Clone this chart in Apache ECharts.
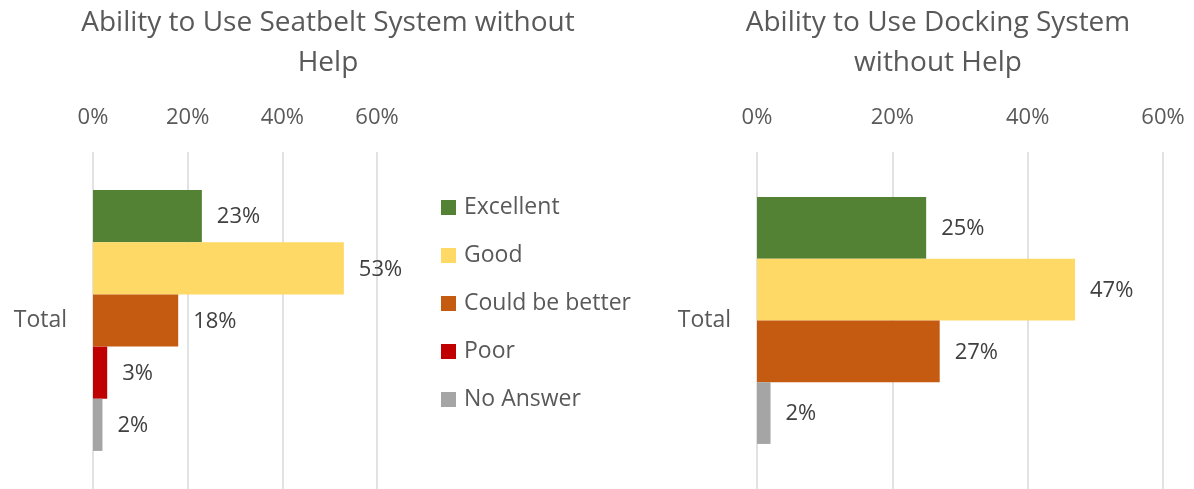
<!DOCTYPE html>
<html>
<head>
<meta charset="utf-8">
<script src="https://cdn.jsdelivr.net/npm/echarts@6/dist/echarts.min.js"></script>
<style>
  html, body { margin: 0; padding: 0; background: #ffffff; }
  #chart { width: 1194px; height: 489px; }
</style>
</head>
<body>
<div id="chart"></div>
<script>
// Survey results: share of answers per rating, one panel per system
const categories = ['Total'];
const ratingNames = ['Excellent', 'Good', 'Could be better', 'Poor', 'No Answer'];
const ratingColors = ['#548235', '#FED966', '#C55A11', '#C00000', '#A5A5A5'];

const seatbeltTitle = 'Ability to Use Seatbelt System without\nHelp';
const seatbeltNames = ['Excellent', 'Good', 'Could be better', 'Poor', 'No Answer'];
const seatbeltValues = [23, 53, 18, 3, 2];

const dockingTitle = 'Ability to Use Docking System\nwithout Help';
const dockingNames = ['Excellent', 'Good', 'Could be better', 'No Answer'];
const dockingValues = [25, 47, 27, 2];

const axisTicks = [0, 20, 40, 60];

const FONT = '"Open Sans", "Noto Sans", sans-serif';
const TEXT_GREY = '#595959';
const LABEL_GREY = '#404040';

function colorOf(name) {
  return ratingColors[ratingNames.indexOf(name)];
}

// gap between category bands, as in an office chart with ~146% gap width
function categoryGap(n) {
  const g = 1.46;
  return (g / (n + g) * 100).toFixed(2) + '%';
}

function panelSeries(names, values, idx) {
  return names.map((name, i) => ({
    name: name,
    type: 'bar',
    xAxisIndex: idx,
    yAxisIndex: idx,
    data: [values[i]],
    barGap: '0%',
    barCategoryGap: categoryGap(names.length),
    itemStyle: { color: colorOf(name) },
    label: {
      show: true,
      position: 'right',
      distance: 15,
      formatter: '{c}%',
      color: LABEL_GREY,
      fontFamily: FONT,
      fontSize: 22,
      offset: [0, 1]
    },
    emphasis: { disabled: true }
  }));
}

function xAxisFor(idx) {
  return {
    type: 'value',
    gridIndex: idx,
    position: 'top',
    min: axisTicks[0],
    max: axisTicks[axisTicks.length - 1],
    interval: axisTicks[1] - axisTicks[0],
    axisLine: { show: false },
    axisTick: { show: false },
    axisLabel: {
      formatter: '{value}%',
      color: TEXT_GREY,
      fontFamily: FONT,
      fontSize: 22,
      margin: 23
    },
    splitLine: { show: true, lineStyle: { color: '#D9D9D9', width: 1.5 } }
  };
}

function yAxisFor(idx) {
  return {
    type: 'category',
    gridIndex: idx,
    data: categories,
    inverse: true,
    axisLine: { show: false },
    axisTick: { show: false },
    axisLabel: {
      color: TEXT_GREY,
      fontFamily: FONT,
      fontSize: 23,
      margin: 26
    }
  };
}

const titleStyle = { color: TEXT_GREY, fontFamily: FONT, fontWeight: 'normal', fontSize: 28, lineHeight: 40 };

const chart = echarts.init(document.getElementById('chart'), null, { renderer: 'canvas' });

chart.setOption({
  animation: false,
  backgroundColor: '#ffffff',
  title: [
    { text: seatbeltTitle, left: 328, top: 3, padding: 0, textAlign: 'center', textStyle: titleStyle },
    { text: dockingTitle, left: 938, top: 3, padding: 0, textAlign: 'center', textStyle: titleStyle }
  ],
  legend: {
    orient: 'vertical',
    left: 441,
    top: 196,
    padding: 0,
    itemWidth: 15,
    itemHeight: 15,
    itemGap: 25,
    icon: 'rect',
    selectedMode: false,
    data: ratingNames,
    textStyle: { color: TEXT_GREY, fontFamily: FONT, fontSize: 23, lineHeight: 23, padding: [0, 0, 0, 3] }
  },
  grid: [
    { left: 93, top: 152, width: 284, height: 338, containLabel: false },
    { left: 757, top: 152, width: 406, height: 338, containLabel: false }
  ],
  xAxis: [xAxisFor(0), xAxisFor(1)],
  yAxis: [yAxisFor(0), yAxisFor(1)],
  series: [
    ...panelSeries(seatbeltNames, seatbeltValues, 0),
    ...panelSeries(dockingNames, dockingValues, 1)
  ]
});
</script>
</body>
</html>
